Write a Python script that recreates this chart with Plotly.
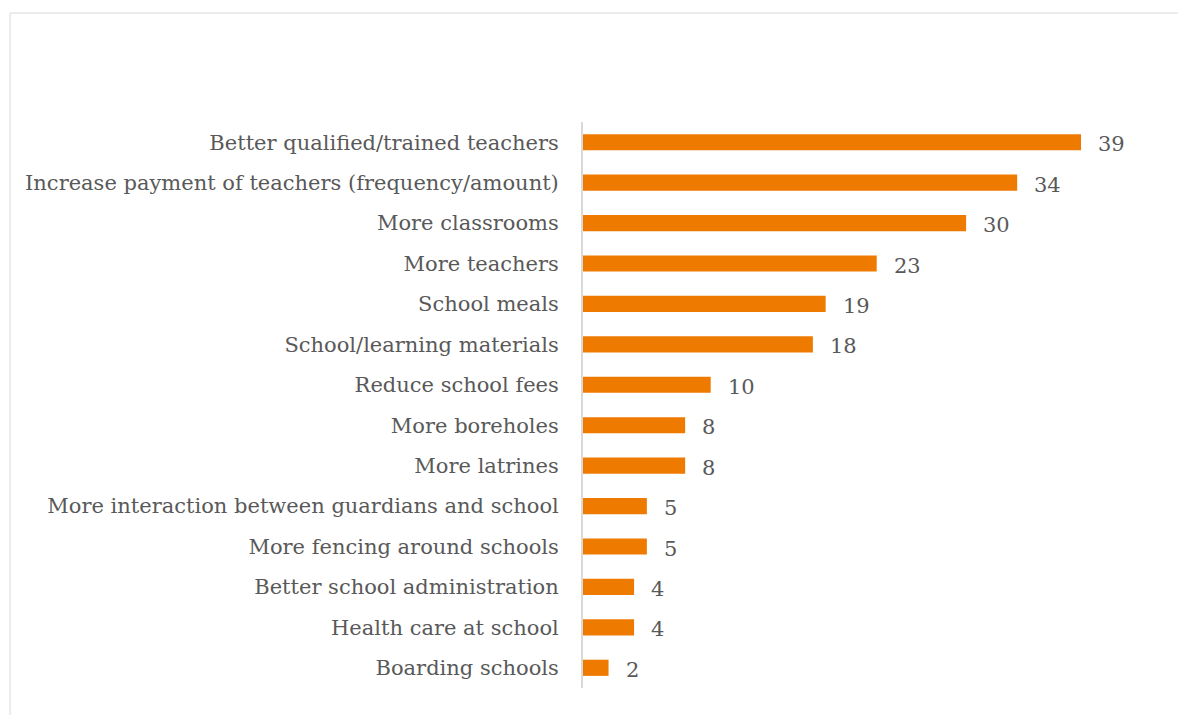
import plotly.graph_objects as go

categories = [
    "Better qualified/trained teachers",
    "Increase payment of teachers (frequency/amount)",
    "More classrooms",
    "More teachers",
    "School meals",
    "School/learning materials",
    "Reduce school fees",
    "More boreholes",
    "More latrines",
    "More interaction between guardians and school",
    "More fencing around schools",
    "Better school administration",
    "Health care at school",
    "Boarding schools",
]
values = [39, 34, 30, 23, 19, 18, 10, 8, 8, 5, 5, 4, 4, 2]

W, H = 1178, 715
ML, MR, MT, MB = 583, 18, 122, 27
plot_w = W - ML - MR
plot_h = H - MT - MB
px_per_unit = 12.77
x_max = plot_w / px_per_unit

BAR_COLOR = "#EF7A00"
TEXT_COLOR = "#595959"
FONT = "DejaVu Serif"
FSIZE = 21

fig = go.Figure()
fig.add_trace(go.Bar(
    x=values,
    y=categories,
    orientation="h",
    marker=dict(color=BAR_COLOR, line=dict(width=0)),
    width=0.4,
    hoverinfo="x+y",
))

for c, v in zip(categories, values):
    fig.add_annotation(
        x=v, y=c, text=str(v), showarrow=False,
        xanchor="left", yanchor="middle", xshift=15, yshift=-2,
        font=dict(family=FONT, size=FSIZE, color=TEXT_COLOR),
    )

# outer frame around the chart area
fig.add_shape(
    type="rect", xref="paper", yref="paper",
    x0=(10 - ML) / plot_w, x1=(W + 5 - ML) / plot_w,
    y0=-(MB + 5) / plot_h, y1=(H - MB - 13) / plot_h,
    line=dict(color="#D9D9D9", width=1), fillcolor="rgba(0,0,0,0)",
    layer="below",
)

fig.update_layout(
    width=W, height=H,
    margin=dict(l=ML, r=MR, t=MT, b=MB),
    paper_bgcolor="white", plot_bgcolor="white",
    showlegend=False,
    font=dict(family=FONT, size=FSIZE, color=TEXT_COLOR),
    xaxis=dict(range=[0, x_max], visible=False, fixedrange=True),
    yaxis=dict(
        autorange="reversed",
        showline=True, linecolor="#D9D9D9", linewidth=2,
        showgrid=False, ticks="", ticklabelstandoff=18,
        tickfont=dict(family=FONT, size=FSIZE, color=TEXT_COLOR),
        fixedrange=True,
    ),
)

fig.write_html("out.html")
